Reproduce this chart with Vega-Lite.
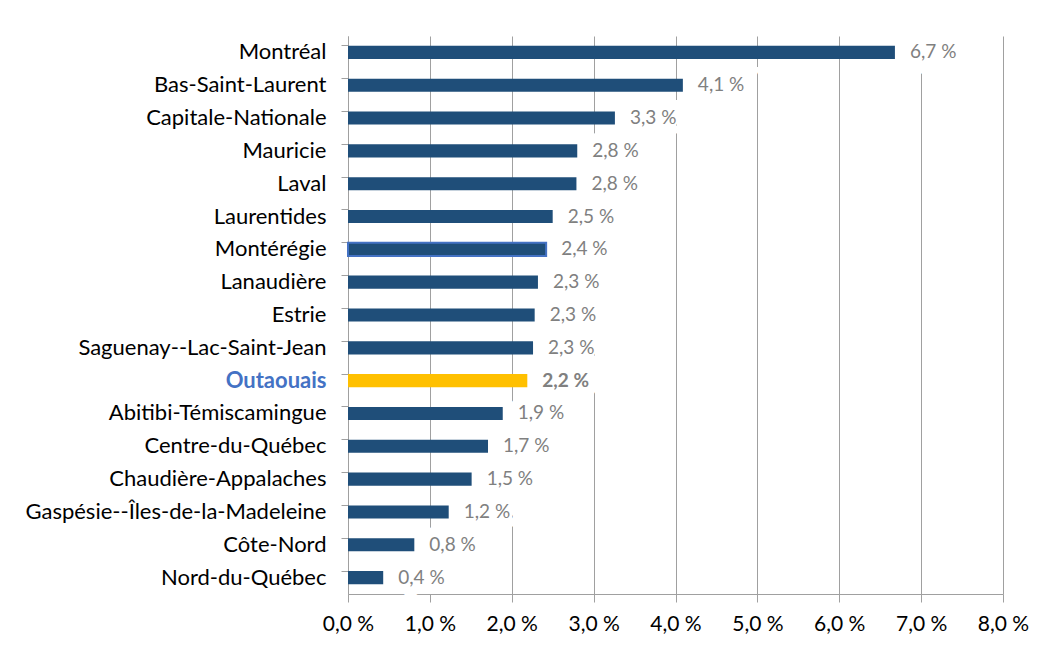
{
  "$schema": "https://vega.github.io/schema/vega-lite/v6.json",
  "autosize": {"type": "none"},
  "width": 655,
  "height": 558,
  "padding": {"left": 348, "top": 36, "right": 44, "bottom": 59},
  "background": "white",
  "config": {
    "view": {"stroke": null},
    "font": "Lato",
    "locale": {
      "number": {"decimal": ",", "thousands": " ", "grouping": [3], "currency": ["", " $"], "percent": " %"}
    }
  },
  "data": {
    "values": [
      {"region": "Montréal", "share": 0.0668},
      {"region": "Bas-Saint-Laurent", "share": 0.0409},
      {"region": "Capitale-Nationale", "share": 0.0326},
      {"region": "Mauricie", "share": 0.0280},
      {"region": "Laval", "share": 0.0279},
      {"region": "Laurentides", "share": 0.0250},
      {"region": "Montérégie", "share": 0.0242},
      {"region": "Lanaudière", "share": 0.0232},
      {"region": "Estrie", "share": 0.0228},
      {"region": "Saguenay--Lac-Saint-Jean", "share": 0.0226},
      {"region": "Outaouais", "share": 0.0219},
      {"region": "Abitibi-Témiscamingue", "share": 0.0189},
      {"region": "Centre-du-Québec", "share": 0.0171},
      {"region": "Chaudière-Appalaches", "share": 0.0151},
      {"region": "Gaspésie--Îles-de-la-Madeleine", "share": 0.0123},
      {"region": "Côte-Nord", "share": 0.0081},
      {"region": "Nord-du-Québec", "share": 0.0043}
    ]
  },
  "encoding": {
    "y": {
      "field": "region",
      "type": "nominal",
      "sort": null,
      "scale": {"paddingInner": 0.6},
      "axis": {
        "title": null,
        "bandPosition": 0,
        "labelFontSize": 22,
        "labelLimit": 0,
        "labelColor": {"condition": {"test": "datum.value == 'Outaouais'", "value": "#4472C4"}, "value": "#000000"},
        "labelFontWeight": {"condition": {"test": "datum.value == 'Outaouais'", "value": "bold"}, "value": "normal"},
        "labelPadding": 15,
        "tickSize": 7,
        "tickColor": "#A0A0A0",
        "domainColor": "#A0A0A0",
        "grid": false,
        "zindex": 0
      }
    },
    "x": {
      "field": "share",
      "type": "quantitative",
      "scale": {"domain": [0, 0.08], "nice": false},
      "axis": {
        "title": null,
        "values": [0, 0.01, 0.02, 0.03, 0.04, 0.05, 0.06, 0.07, 0.08],
        "format": ".1%",
        "labelFontSize": 21,
        "labelFlush": false,
        "labelColor": "#000000",
        "labelPadding": 11,
        "tickSize": 8,
        "tickColor": "#A0A0A0",
        "domainColor": "#A0A0A0",
        "gridColor": "#A0A0A0",
        "gridWidth": 1,
        "zindex": 0
      }
    }
  },
  "layer": [
    {
      "mark": {"type": "text", "align": "left", "baseline": "middle", "dx": 15, "fontSize": 19, "fill": "white", "stroke": "white", "strokeWidth": 20, "strokeJoin": "miter"},
      "encoding": {
        "text": {"field": "share", "type": "quantitative", "format": ".1%"}
      }
    },
    {
      "mark": {"type": "bar"},
      "encoding": {
        "color": {"condition": {"test": "datum.region == 'Outaouais'", "value": "#FFC000"}, "value": "#1F4E79"},
        "stroke": {"condition": {"test": "datum.region == 'Montérégie'", "value": "#4472C4"}, "value": null},
        "strokeWidth": {"value": 2}
      }
    },
    {
      "transform": [{"filter": "datum.region != 'Outaouais'"}],
      "mark": {"type": "text", "align": "left", "baseline": "middle", "dx": 15, "fontSize": 19, "fontWeight": "normal", "color": "#808080"},
      "encoding": {
        "text": {"field": "share", "type": "quantitative", "format": ".1%"}
      }
    },
    {
      "transform": [{"filter": "datum.region == 'Outaouais'"}],
      "mark": {"type": "text", "align": "left", "baseline": "middle", "dx": 15, "fontSize": 19, "fontWeight": "bold", "color": "#808080"},
      "encoding": {
        "text": {"field": "share", "type": "quantitative", "format": ".1%"}
      }
    }
  ]
}
